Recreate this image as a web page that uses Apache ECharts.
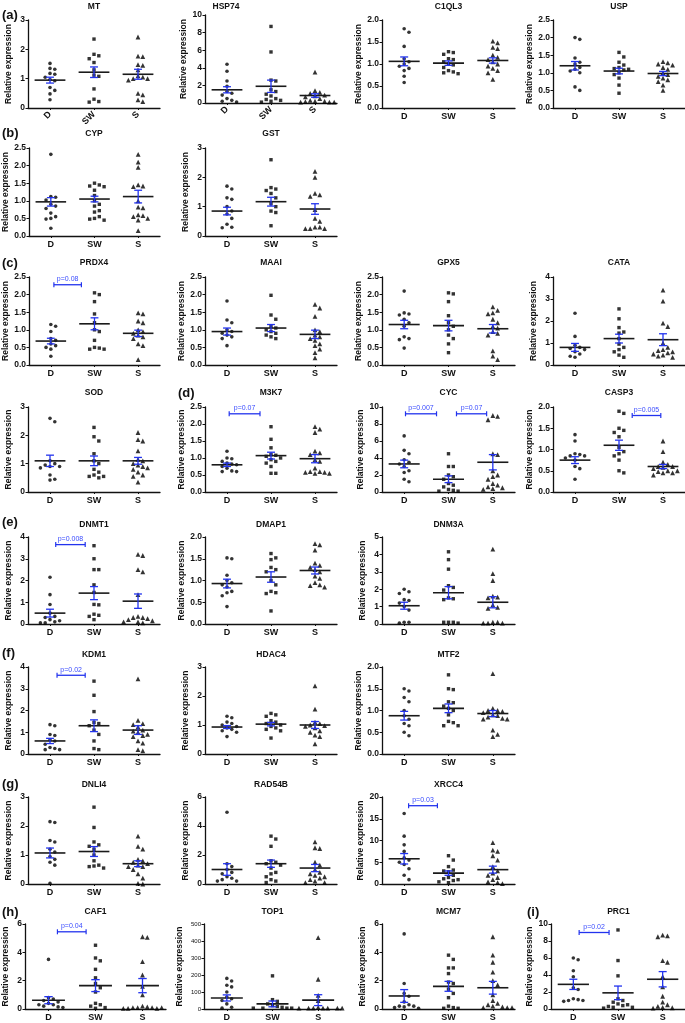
<!DOCTYPE html>
<html><head><meta charset="utf-8">
<script src="https://cdn.jsdelivr.net/npm/echarts@6/dist/echarts.min.js"></script>
<style>html,body{margin:0;padding:0;background:#fff}#c{width:685px;height:1023px}</style>
</head><body><div id="c"></div>
<script>
// ---------- DATA ----------
const groups = ['D', 'SW', 'S'];

const MT = [[1.52,1.35,1.32,1.18,1.15,1.05,0.97,0.93,0.7,0.6,0.48,0.28],[2.35,1.83,1.78,1.68,1.55,1.3,1.12,1.08,0.65,0.3,0.22,0.2],[2.42,1.77,1.75,1.48,1.45,1.3,1.1,1.05,1.0,1.0,0.95,0.5,0.45,0.28,0.22]];
const MT_mean = [0.95,1.22,1.15]; const MT_sem = [0.1,0.18,0.17];
const HSP74 = [[4.4,3.6,2.5,1.9,1.3,1.1,0.9,0.5,0.3,0.2,0.1],[8.7,5.8,2.6,2.5,1.5,1.3,1.0,0.8,0.5,0.4,0.3,0.2,0.1],[3.5,1.4,1.2,1.1,0.9,0.8,0.7,0.5,0.3,0.2,0.2,0.15,0.1,0.1,0.1]];
const HSP74_mean = [1.5,1.9,0.85]; const HSP74_sem = [0.35,0.7,0.2];
const C1QL3 = [[1.8,1.72,1.4,1.12,1.05,1.0,0.95,0.9,0.85,0.72,0.58],[1.28,1.26,1.22,1.12,1.1,1.05,1.0,0.98,0.92,0.85,0.82,0.8,0.78],[1.52,1.48,1.38,1.35,1.2,1.15,1.1,1.05,1.0,0.95,0.9,0.85,0.8,0.65]];
const C1QL3_mean = [1.06,1.02,1.08]; const C1QL3_sem = [0.1,0.05,0.06];
const USP = [[2.0,1.95,1.42,1.3,1.25,1.15,1.1,1.05,1.0,0.6,0.5],[1.58,1.45,1.3,1.22,1.15,1.12,1.1,1.08,1.0,0.95,0.85,0.65,0.42],[1.32,1.28,1.25,1.22,1.15,1.1,1.0,0.95,0.9,0.85,0.8,0.75,0.65,0.5]];
const USP_mean = [1.2,1.05,0.98]; const USP_sem = [0.12,0.08,0.06];

const CYP = [[2.32,1.12,1.1,1.02,0.9,0.85,0.78,0.65,0.55,0.5,0.48,0.22],[1.5,1.45,1.42,1.4,1.3,1.15,1.0,0.9,0.85,0.72,0.68,0.55,0.5,0.48,0.45],[2.32,2.1,1.95,1.45,1.42,1.4,1.0,0.82,0.8,0.6,0.58,0.55,0.5,0.45,0.15]];
const CYP_mean = [0.97,1.05,1.12]; const CYP_sem = [0.12,0.08,0.18];
const GST = [[1.7,1.6,1.3,1.25,1.0,0.85,0.75,0.6,0.4,0.3,0.28],[2.6,1.65,1.6,1.55,1.45,1.3,1.1,1.0,0.85,0.8,0.35],[2.2,2.0,1.45,1.4,1.35,0.9,0.6,0.5,0.3,0.25,0.25,0.25,0.3]];
const GST_mean = [0.85,1.17,0.92]; const GST_sem = [0.13,0.15,0.18];

const PRDX4 = [[1.15,1.1,0.95,0.75,0.7,0.6,0.55,0.5,0.45,0.25],[2.05,2.0,1.8,1.45,1.2,1.0,0.95,0.7,0.5,0.48,0.45,0.45],[1.48,1.45,1.25,1.2,1.0,0.95,0.9,0.85,0.8,0.75,0.6,0.55,0.15]];
const PRDX4_mean = [0.68,1.17,0.9]; const PRDX4_sem = [0.08,0.17,0.09];
const MAAI = [[1.82,1.28,1.2,1.0,0.95,0.9,0.85,0.8,0.75,0.55],[1.98,1.42,1.3,1.1,1.05,1.0,0.95,0.9,0.85,0.8,0.75],[1.72,1.62,1.38,1.0,0.95,0.85,0.8,0.75,0.7,0.6,0.55,0.45,0.35,0.2]];
const MAAI_mean = [0.95,1.05,0.87]; const MAAI_sem = [0.1,0.1,0.12];
const GPX5 = [[2.1,1.48,1.45,1.42,1.3,1.2,1.1,0.8,0.75,0.72,0.48],[2.05,2.02,1.8,1.4,1.2,1.1,1.0,0.85,0.75,0.6,0.35],[1.65,1.55,1.48,1.45,1.3,1.2,1.1,1.05,0.95,0.9,0.85,0.4,0.25,0.15]];
const GPX5_mean = [1.15,1.12,1.03]; const GPX5_sem = [0.12,0.15,0.12];
const CATA = [[2.35,1.3,0.9,0.8,0.75,0.7,0.6,0.5,0.4,0.35],[2.55,2.1,1.7,1.5,1.45,1.2,0.95,0.8,0.7,0.6,0.45,0.35],[3.4,2.9,1.9,1.75,1.0,0.8,0.7,0.65,0.6,0.55,0.5,0.45,0.4,0.35]];
const CATA_mean = [0.8,1.2,1.15]; const CATA_sem = [0.18,0.2,0.27];

const SOD = [[2.6,2.48,1.1,1.0,0.95,0.9,0.9,0.85,0.6,0.45,0.42],[2.28,1.95,1.8,1.35,1.1,1.0,0.8,0.7,0.6,0.55,0.55,0.5],[2.1,1.85,1.8,1.45,1.15,1.1,1.0,0.95,0.9,0.85,0.8,0.7,0.6,0.55,0.35]];
const SOD_mean = [1.1,1.1,1.1]; const SOD_sem = [0.2,0.17,0.12];
const M3K7 = [[1.2,1.0,0.98,0.9,0.85,0.82,0.8,0.75,0.7,0.62,0.6,0.6],[1.92,1.55,1.3,1.1,1.08,1.05,1.0,0.95,0.9,0.85,0.75,0.55,0.55],[1.92,1.85,1.75,1.2,1.15,1.1,0.95,0.9,0.7,0.6,0.6,0.58,0.58,0.55,0.55]];
const M3K7_mean = [0.8,1.07,0.98]; const M3K7_sem = [0.05,0.1,0.12];
const CYC = [[6.6,4.9,4.5,3.8,3.5,3.3,3.0,2.5,2.3,1.5,1.2],[4.5,3.0,3.0,2.0,1.8,1.5,1.0,0.8,0.6,0.3,0.2,0.1,0.1],[9.0,8.9,8.5,4.5,4.4,2.5,2.0,1.8,1.5,1.0,0.8,0.6,0.5,0.4,0.3]];
const CYC_mean = [3.3,1.5,3.5]; const CYC_sem = [0.45,0.4,0.9];
const CASP3 = [[1.35,1.2,0.9,0.88,0.85,0.85,0.8,0.75,0.6,0.55,0.3],[1.9,1.85,1.5,1.45,1.4,1.3,1.05,0.95,0.9,0.85,0.75,0.5,0.45],[1.2,0.95,0.7,0.65,0.6,0.6,0.58,0.55,0.5,0.5,0.48,0.45,0.45,0.4]];
const CASP3_mean = [0.75,1.1,0.6]; const CASP3_sem = [0.08,0.12,0.05];

const DNMT1 = [[2.15,1.35,0.9,0.5,0.35,0.3,0.2,0.15,0.1,0.05,0.05],[3.6,3.0,2.5,2.5,1.8,1.45,0.9,0.88,0.45,0.4,0.35,0.2],[3.2,3.15,2.5,2.4,1.35,0.35,0.3,0.3,0.25,0.2,0.15,0.1,0.1,0.05]];
const DNMT1_mean = [0.5,1.42,1.05]; const DNMT1_sem = [0.18,0.3,0.33];
const DMAP1 = [[1.52,1.5,1.12,1.0,0.95,0.9,0.85,0.75,0.72,0.65,0.4],[1.62,1.52,1.48,1.3,1.25,1.2,1.0,0.9,0.75,0.72,0.7,0.3],[1.85,1.82,1.7,1.4,1.35,1.3,1.25,1.2,1.1,1.05,0.95,0.9,0.88,0.85]];
const DMAP1_mean = [0.93,1.08,1.23]; const DMAP1_sem = [0.1,0.12,0.08];
const DNM3A = [[2.0,1.85,1.75,1.4,1.35,1.2,1.0,0.8,0.1,0.1,0.05],[4.15,3.7,3.15,2.2,2.1,1.95,1.5,1.45,1.4,0.1,0.1,0.05,0.1],[4.3,2.9,2.5,1.6,1.55,1.5,1.1,0.95,0.9,0.1,0.05,0.05,0.1,0.05]];
const DNM3A_mean = [1.05,1.8,1.25]; const DNM3A_sem = [0.2,0.35,0.32];

const KDM1 = [[1.35,1.3,0.9,0.85,0.65,0.6,0.45,0.3,0.25,0.2,0.2],[3.35,2.7,1.95,1.45,1.4,1.3,1.1,0.9,0.6,0.25,0.2],[3.45,1.55,1.4,1.35,1.25,1.1,1.05,1.0,0.9,0.85,0.8,0.6,0.5,0.2,0.15]];
const KDM1_mean = [0.6,1.3,1.1]; const KDM1_sem = [0.12,0.27,0.2];
const HDAC4 = [[1.3,1.25,1.1,1.05,1.0,0.95,0.9,0.85,0.8,0.75,0.6],[1.4,1.35,1.3,1.15,1.1,1.05,1.0,0.95,0.9,0.85,0.8,0.55],[2.35,1.55,1.1,1.05,1.0,0.98,0.95,0.9,0.8,0.75,0.65,0.6,0.35]];
const HDAC4_mean = [0.93,1.03,1.0]; const HDAC4_sem = [0.05,0.06,0.12];
const MTF2 = [[1.5,1.45,1.3,1.2,1.0,0.88,0.8,0.7,0.65,0.5,0.42],[1.82,1.5,1.48,1.2,1.18,1.1,1.05,1.0,0.9,0.75,0.72,0.65,0.65],[1.85,1.05,1.0,1.0,0.98,0.95,0.9,0.88,0.85,0.82,0.8,0.8,0.55,0.45,0.4]];
const MTF2_mean = [0.88,1.05,0.93]; const MTF2_sem = [0.1,0.1,0.07];

const DNLI4 = [[2.15,2.12,1.5,1.45,1.2,1.1,0.95,0.85,0.75,0.65,0.02],[2.65,1.95,1.45,1.35,1.3,1.2,1.0,0.8,0.65,0.62,0.6,0.55],[1.65,1.3,1.2,0.85,0.8,0.75,0.7,0.65,0.6,0.6,0.5,0.35,0.2,0.02,0.0]];
const DNLI4_mean = [1.07,1.12,0.7]; const DNLI4_sem = [0.17,0.17,0.1];
const RAD54B = [[4.95,1.4,1.2,1.0,0.8,0.7,0.5,0.4,0.3,0.2,0.2],[3.3,3.1,2.6,1.6,1.5,1.4,1.3,1.1,0.8,0.7,0.5,0.3,0.2,0.1],[2.9,2.5,2.45,1.5,1.3,1.0,0.8,0.7,0.6,0.5,0.4,0.3,0.2,0.1,0.1]];
const RAD54B_mean = [1.0,1.4,1.1]; const RAD54B_sem = [0.4,0.25,0.25];
const XRCC4 = [[16.2,11.0,9.0,7.5,6.0,5.5,5.0,4.5,3.5,2.0,1.0],[6.5,5.5,4.0,3.2,3.0,2.8,2.0,1.5,1.2,1.0,0.8,0.5,0.3],[9.5,7.8,7.5,6.5,5.5,4.0,3.0,2.5,2.0,1.5,1.0,0.5,0.3,0.1]];
const XRCC4_mean = [5.8,2.5,3.3]; const XRCC4_sem = [1.2,0.5,0.8];

const CAF1 = [[3.5,0.8,0.7,0.6,0.5,0.4,0.3,0.3,0.2,0.15,0.1],[4.5,3.6,3.4,2.8,2.2,1.8,1.5,1.2,0.4,0.3,0.2,0.1,0.05],[5.1,5.05,3.35,2.4,1.6,1.0,0.2,0.15,0.1,0.1,0.1,0.05,0.05,0.05,0.1]];
const CAF1_mean = [0.62,1.65,1.65]; const CAF1_sem = [0.25,0.42,0.5];
const TOP1 = [[180,165,140,130,100,70,60,50,30,10,5],[195,55,45,30,20,15,10,5,5,5,5],[420,175,80,50,10,5,5,5,5,5,5,5]];
const TOP1_mean = [65,30,52]; const TOP1_sem = [18,17,32];
const MCM7 = [[5.3,1.8,1.1,0.9,0.5,0.3,0.2,0.2,0.15,0.1,0.05],[3.8,3.5,2.9,2.9,2.5,1.9,1.8,1.4,1.1,0.8,0.2,0.1,0.05,0.05],[5.1,3.8,3.3,2.6,2.0,1.7,1.0,0.6,0.4,0.3,0.2,0.15,0.1,0.1,0.1]];
const MCM7_mean = [0.92,1.6,1.5]; const MCM7_sem = [0.45,0.35,0.45];
const PRC1 = [[6.0,5.8,4.5,3.8,2.5,2.3,1.2,1.1,1.0,1.0,0.9],[9.3,5.7,3.9,1.2,1.0,0.8,0.6,0.5,0.4,0.3,0.2,0.2,0.1],[8.6,8.5,8.7,5.7,5.5,3.8,2.6,1.5,0.8,0.5,0.3,0.2,0.15,0.1]];
const PRC1_mean = [2.9,1.9,3.5]; const PRC1_sem = [0.6,0.8,0.9];

// significance brackets: gene, from (category units), to, y value, label
const brackets = [
  ['PRDX4',0.07,0.7,2.28,'p=0.08'],
  ['M3K7',0.05,0.75,2.3,'p=0.07'],
  ['CYC',0.03,0.73,9.2,'p=0.007'],
  ['CYC',1.18,1.86,9.2,'p=0.07'],
  ['CASP3',1.3,1.95,1.8,'p=0.005'],
  ['DNMT1',0.13,0.8,3.65,'p=0.008'],
  ['KDM1',0.16,0.8,3.62,'p=0.02'],
  ['XRCC4',0.1,0.75,18,'p=0.03'],
  ['CAF1',0.19,0.8,5.45,'p=0.04'],
  ['PRC1',0.13,0.8,9.0,'p=0.02']
];

// ---------- LAYOUT ----------
const rowTop = [20,148,277,407,537,667,797,924];
const rowBottom = [108,236,365,492,624,754,884,1009];
const titleY = [7,134,263,393,525,655,785,912];
const colLeft = [28,205,382,553];
const colWidth = [132,132,133,132];
const letters = [['(a)',2,15],['(b)',2,133],['(c)',2,263],['(d)',178,393],['(e)',2,522],['(f)',2,653],['(g)',2,784],['(h)',2,912],['(i)',527,912]];

const panels = [
  {name:'MT',vals:MT,mean:MT_mean,sem:MT_sem,row:0,col:0,max:3,step:1,rot:45},
  {name:'HSP74',vals:HSP74,mean:HSP74_mean,sem:HSP74_sem,row:0,col:1,max:10,step:2,rot:45,top:15,bottom:103},
  {name:'C1QL3',vals:C1QL3,mean:C1QL3_mean,sem:C1QL3_sem,row:0,col:2,max:2,step:0.5},
  {name:'USP',vals:USP,mean:USP_mean,sem:USP_sem,row:0,col:3,max:2.5,step:0.5},
  {name:'CYP',vals:CYP,mean:CYP_mean,sem:CYP_sem,row:1,col:0,max:2.5,step:0.5},
  {name:'GST',vals:GST,mean:GST_mean,sem:GST_sem,row:1,col:1,max:3,step:1},
  {name:'PRDX4',vals:PRDX4,mean:PRDX4_mean,sem:PRDX4_sem,row:2,col:0,max:2.5,step:0.5},
  {name:'MAAI',vals:MAAI,mean:MAAI_mean,sem:MAAI_sem,row:2,col:1,max:2.5,step:0.5},
  {name:'GPX5',vals:GPX5,mean:GPX5_mean,sem:GPX5_sem,row:2,col:2,max:2.5,step:0.5},
  {name:'CATA',vals:CATA,mean:CATA_mean,sem:CATA_sem,row:2,col:3,max:4,step:1},
  {name:'SOD',vals:SOD,mean:SOD_mean,sem:SOD_sem,row:3,col:0,max:3,step:1},
  {name:'M3K7',vals:M3K7,mean:M3K7_mean,sem:M3K7_sem,row:3,col:1,max:2.5,step:0.5},
  {name:'CYC',vals:CYC,mean:CYC_mean,sem:CYC_sem,row:3,col:2,max:10,step:2},
  {name:'CASP3',vals:CASP3,mean:CASP3_mean,sem:CASP3_sem,row:3,col:3,max:2,step:0.5},
  {name:'DNMT1',vals:DNMT1,mean:DNMT1_mean,sem:DNMT1_sem,row:4,col:0,max:4,step:1},
  {name:'DMAP1',vals:DMAP1,mean:DMAP1_mean,sem:DMAP1_sem,row:4,col:1,max:2,step:0.5},
  {name:'DNM3A',vals:DNM3A,mean:DNM3A_mean,sem:DNM3A_sem,row:4,col:2,max:5,step:1},
  {name:'KDM1',vals:KDM1,mean:KDM1_mean,sem:KDM1_sem,row:5,col:0,max:4,step:1},
  {name:'HDAC4',vals:HDAC4,mean:HDAC4_mean,sem:HDAC4_sem,row:5,col:1,max:3,step:1},
  {name:'MTF2',vals:MTF2,mean:MTF2_mean,sem:MTF2_sem,row:5,col:2,max:2,step:0.5},
  {name:'DNLI4',vals:DNLI4,mean:DNLI4_mean,sem:DNLI4_sem,row:6,col:0,max:3,step:1},
  {name:'RAD54B',vals:RAD54B,mean:RAD54B_mean,sem:RAD54B_sem,row:6,col:1,max:6,step:2},
  {name:'XRCC4',vals:XRCC4,mean:XRCC4_mean,sem:XRCC4_sem,row:6,col:2,max:20,step:5},
  {name:'CAF1',vals:CAF1,mean:CAF1_mean,sem:CAF1_sem,row:7,col:0,max:6,step:2,left:25,width:141},
  {name:'TOP1',vals:TOP1,mean:TOP1_mean,sem:TOP1_sem,row:7,col:1,max:500,step:100,left:204,width:137,small:true},
  {name:'MCM7',vals:MCM7,mean:MCM7_mean,sem:MCM7_sem,row:7,col:2,max:6,step:2},
  {name:'PRC1',vals:PRC1,mean:PRC1_mean,sem:PRC1_sem,row:7,col:3,max:10,step:2,left:551,width:135}
];

const FONT = "'Liberation Sans', Arial, sans-serif";
const BLUE = '#2233ee';
const symbols = ['circle','rect','triangle'];
const symSizes = [3.6,3.4,4.8];

// simple beeswarm: spread points of similar height side by side
function swarm(vals, ppu) {
  const order = vals.map((v,i)=>i).sort((a,b)=>vals[b]-vals[a]);
  const placed = [], offs = [];
  const step = 4.8, minD = 4.8;
  for (const i of order) {
    const y = vals[i]*ppu;
    for (let k=0;k<40;k++) {
      const slot = k===0 ? 0 : (k%2 ? Math.ceil(k/2) : -Math.ceil(k/2));
      const x = slot*step;
      if (placed.every(p => Math.hypot(p.x-x, p.y-y) >= minD)) { placed.push({x,y}); offs[i]=x; break; }
    }
  }
  return offs;
}

const grid=[], xAxis=[], yAxis=[], series=[], graphic=[];
const axisColor = '#111';
panels.forEach((p,i)=>{
  const top = p.top!==undefined ? p.top : rowTop[p.row];
  const bottom = p.bottom!==undefined ? p.bottom : rowBottom[p.row];
  const left = p.left!==undefined ? p.left : colLeft[p.col];
  const width = p.width!==undefined ? p.width : colWidth[p.col];
  const height = bottom-top;
  grid.push({left:left, top:top, width:width, height:height, containLabel:false});
  xAxis.push({type:'category', gridIndex:i, data:groups, boundaryGap:true,
    axisLine:{lineStyle:{color:axisColor,width:1.3}},
    axisTick:{show:true, alignWithLabel:true, length:2, lineStyle:{color:axisColor}},
    axisLabel:{fontFamily:FONT, fontSize:9, fontWeight:'bold', color:'#111', margin:p.rot?5:4, rotate:p.rot||0}
  });
  const dec = p.step<1 ? 1 : 0;
  yAxis.push({type:'value', gridIndex:i, min:0, max:p.max, interval:p.step,
    name:'Relative expression', nameLocation:'middle', nameGap: p.small?20:(dec?19:15),
    nameTextStyle:{fontFamily:FONT, fontSize:8.5, fontWeight:'bold', color:'#111'},
    axisLine:{show:true, lineStyle:{color:axisColor,width:1.3}},
    axisTick:{show:true, length:2.5, lineStyle:{color:axisColor}},
    splitLine:{show:false},
    axisLabel:{fontFamily:FONT, fontSize:p.small?6:8.5, fontWeight:p.small?'normal':'bold', color:'#111', margin:3,
      formatter: v => v.toFixed(dec)}
  });
  const ppu = height/p.max;
  p.vals.forEach((arr,k)=>{
    const offs = swarm(arr, ppu);
    series.push({type:'scatter', xAxisIndex:i, yAxisIndex:i, symbol:symbols[k], symbolSize:symSizes[k],
      itemStyle:{color:'#000'}, z:2, silent:true,
      data: arr.map((v,j)=>({value:[k,v], symbolOffset:[offs[j],0]}))});
  });
  // mean line + SEM bars
  series.push({type:'custom', xAxisIndex:i, yAxisIndex:i, z:4, silent:true,
    data: groups.map((g,k)=>[k, p.mean[k], p.sem[k]]),
    renderItem:(params, api)=>{
      const k=api.value(0), m=api.value(1), s=api.value(2);
      const c=api.coord([k,m]), hi=api.coord([k,m+s]), lo=api.coord([k,Math.max(0,m-s)]);
      const bw=api.size([1,0])[0];
      const half=bw*0.35, cap=bw*0.09;
      return {type:'group', children:[
        {type:'line', shape:{x1:c[0]-half,y1:c[1],x2:c[0]+half,y2:c[1]}, style:{stroke:'#1a1a1a',lineWidth:1.6}},
        {type:'line', shape:{x1:c[0],y1:hi[1],x2:c[0],y2:lo[1]}, style:{stroke:BLUE,lineWidth:1.3}},
        {type:'line', shape:{x1:c[0]-cap,y1:hi[1],x2:c[0]+cap,y2:hi[1]}, style:{stroke:BLUE,lineWidth:1.3}},
        {type:'line', shape:{x1:c[0]-cap,y1:lo[1],x2:c[0]+cap,y2:lo[1]}, style:{stroke:BLUE,lineWidth:1.3}}
      ]};
    }});
  // brackets
  const bl = brackets.filter(b=>b[0]===p.name);
  if (bl.length) {
    series.push({type:'custom', xAxisIndex:i, yAxisIndex:i, z:5, silent:true,
      data: bl.map(b=>[b[1],b[2],b[3],b[4]]),
      renderItem:(params, api)=>{
        const b = bl[params.dataIndex];
        const c0 = api.coord([0,b[3]]);
        const bw = api.size([1,0])[0];
        const x1 = c0[0]+b[1]*bw, x2 = c0[0]+b[2]*bw, y=c0[1];
        return {type:'group', children:[
          {type:'line', shape:{x1:x1,y1:y,x2:x2,y2:y}, style:{stroke:BLUE,lineWidth:1.3}},
          {type:'line', shape:{x1:x1,y1:y-2.5,x2:x1,y2:y+2.5}, style:{stroke:BLUE,lineWidth:1.2}},
          {type:'line', shape:{x1:x2,y1:y-2.5,x2:x2,y2:y+2.5}, style:{stroke:BLUE,lineWidth:1.2}},
          {type:'text', style:{text:b[4], x:(x1+x2)/2, y:y-2, align:'center', verticalAlign:'bottom',
            fontFamily:FONT, fontSize:7, fill:'#3a4cff'}}
        ]};
      }});
  }
  // panel title
  graphic.push({type:'text', x: left+width/2 + (p.name==='HSP74'?-45:0), y: titleY[p.row],
    style:{text:p.name, align:'center', verticalAlign:'middle', fontFamily:FONT, fontSize:8.5, fontWeight:'bold', fill:'#111'}});
});
letters.forEach(l=>{
  graphic.push({type:'text', x:l[1], y:l[2], style:{text:l[0], align:'left', verticalAlign:'middle',
    fontFamily:FONT, fontSize:13, fontWeight:'bold', fill:'#111'}});
});

const chart = echarts.init(document.getElementById('c'), null, {renderer:'canvas'});
chart.setOption({animation:false, backgroundColor:'#fff', grid, xAxis, yAxis, series, graphic});
</script></body></html>
